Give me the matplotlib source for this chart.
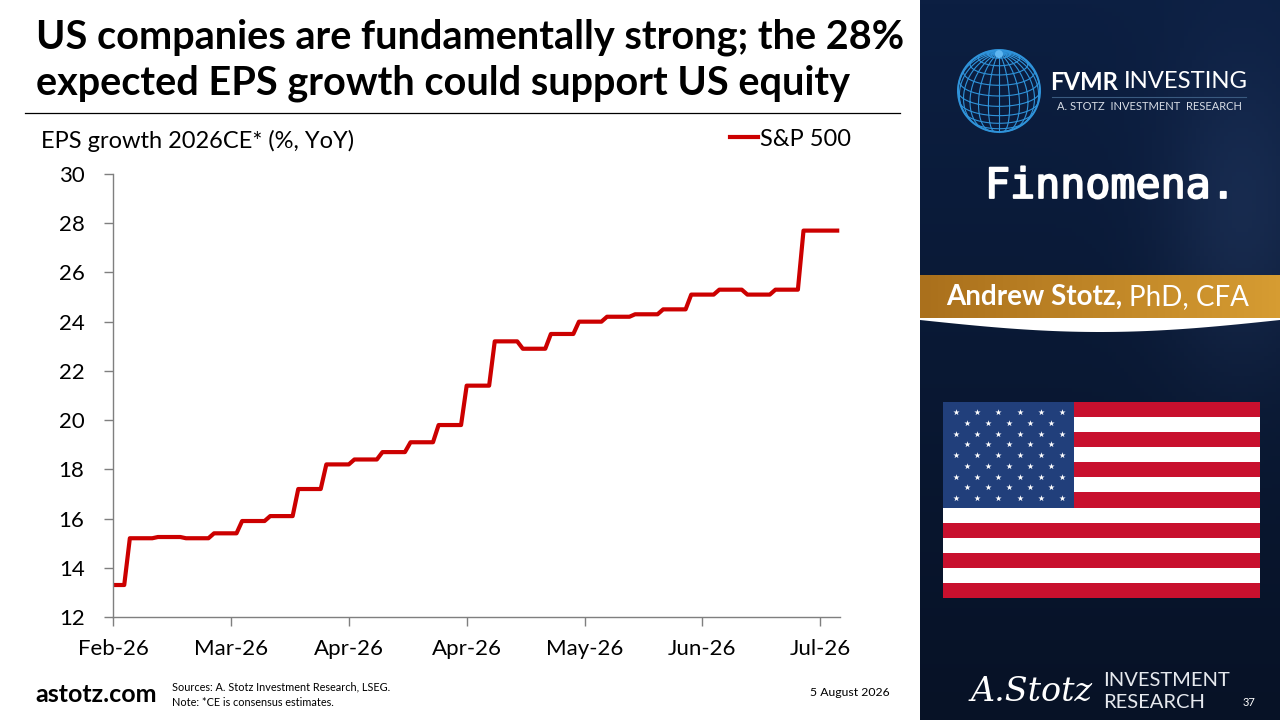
import numpy as np
import pandas as pd
import matplotlib
matplotlib.use('Agg')
import matplotlib.pyplot as plt
import matplotlib.patheffects as pe
from matplotlib.patches import Rectangle, Polygon, Circle

plt.rcParams['font.family'] = ['Lato', 'DejaVu Sans']

# weekly consensus values (update each Thursday), business-day series
weekly_values = [13.3, 15.2, 15.25, 15.2, 15.4, 15.9, 16.1, 17.2, 18.2, 18.4,
                 18.7, 19.1, 19.8, 21.4, 23.2, 22.9, 23.5, 24.0, 24.2, 24.3,
                 24.5, 25.1, 25.3, 25.1, 25.3, 27.7]
days_per_week = [3] + [5] * 24 + [7]
dates = pd.bdate_range('2026-02-02', periods=sum(days_per_week))
eps = np.repeat(weekly_values, days_per_week)

tick_pos = [0, 21, 42, 63, 84, 105, 126]
tick_labels = ['Feb-26', 'Mar-26', 'Apr-26', 'Apr-26', 'May-26', 'Jun-26', 'Jul-26']
y_ticks = [12, 14, 16, 18, 20, 22, 24, 26, 28, 30]

W, H = 1280, 720
fig = plt.figure(figsize=(12.8, 7.2), dpi=100)
fig.patch.set_facecolor('white')
renderer = fig.canvas.get_renderer()

# background layer in pixel coordinates
bg = fig.add_axes([0, 0, 1, 1], zorder=0)
bg.set_xlim(0, W)
bg.set_ylim(H, 0)
bg.axis('off')


def two_part(x0, y, left, right, size, color):
    # bold word followed by a regular word, placed right after it
    t1 = bg.text(x0, y, left, color=color, fontsize=size, fontweight='bold',
                 va='center', ha='left', zorder=4)
    ext = t1.get_window_extent(renderer=renderer)
    bg.text(ext.x1 + size * 0.32, y, right, color=color,
            fontsize=size, va='center', ha='left', zorder=4)


# dark right panel
gx = np.linspace(0, 1, 90)
gy = np.linspace(0, 1, 180)
GX, GY = np.meshgrid(gx, gy)
top = np.array([12, 31, 66]) / 255
bot = np.array([7, 18, 38]) / 255
img = top[None, None, :] * (1 - GY[..., None]) + bot[None, None, :] * GY[..., None]
glow = np.exp(-((GX - 0.9) ** 2 / 0.05 + (GY - 0.3) ** 2 / 0.05))[..., None]
img = np.clip(img + glow * np.array([0.05, 0.06, 0.08]), 0, 1)
bg.imshow(img, extent=[920, 1280, 720, 0], aspect='auto', zorder=1)

# globe logo
cx, cy, r = 999, 91, 41
gcol = '#2f93da'
tilt = np.radians(22)


def proj(x, y, z):
    y2 = y * np.cos(tilt) - z * np.sin(tilt)
    z2 = y * np.sin(tilt) + z * np.cos(tilt)
    return cx + r * x, cy - r * y2, z2


t = np.linspace(0, 2 * np.pi, 200)
for lon in np.radians(np.arange(0, 180, 15)):
    px, py, pz = proj(np.cos(t) * np.cos(lon), np.sin(t), np.cos(t) * np.sin(lon))
    m = np.where(pz > 0, 1.0, np.nan)
    bg.plot(px * m, py * m, color=gcol, lw=0.8, zorder=3)
for lat in np.radians(np.arange(-75, 90, 15)):
    px, py, pz = proj(np.cos(lat) * np.cos(t), np.full_like(t, np.sin(lat)),
                      np.cos(lat) * np.sin(t))
    m = np.where(pz > 0, 1.0, np.nan)
    bg.plot(px * m, py * m, color=gcol, lw=0.8, zorder=3)
bg.add_patch(Circle((cx, cy), r, fill=False, ec=gcol, lw=1.4, zorder=3))
bg.add_patch(Circle((cx, cy - r * 0.9), 4, fc='#5fb6f0', ec='none', zorder=3))

two_part(1050, 82, 'FVMR', 'INVESTING', 17.2, 'white')
bg.plot([1052, 1246], [97, 97], color='#3a5a80', lw=0.8, zorder=4)
bg.text(1149, 107, 'A. STOTZ  INVESTMENT  RESEARCH', color='#d8dde6', fontsize=8,
        va='center', ha='center', zorder=4)

bg.text(1110, 186, 'Finnomena.', color='white', fontsize=30,
        family='DejaVu Sans Mono', va='center', ha='center', zorder=4,
        path_effects=[pe.withStroke(linewidth=1.3, foreground='white')])

# gold banner
band = np.linspace(0, 1, 100)[None, :, None]
gold = np.array([170, 112, 28]) / 255 * (1 - band) + np.array([214, 156, 50]) / 255 * band
bg.imshow(gold, extent=[920, 1280, 318, 275], aspect='auto', zorder=2)
sx = np.linspace(920, 1280, 60)
swoosh_low = 320 + 12 * np.sin(np.pi * (sx - 920) / 360)
bg.add_patch(Polygon(np.column_stack([np.r_[sx, sx[::-1]],
                                      np.r_[np.full(60, 318), swoosh_low[::-1]]]),
                     fc='white', ec='none', zorder=2))
two_part(946, 297, 'Andrew Stotz,', 'PhD, CFA', 20, 'white')

# US flag
fx0, fx1, fy0, fy1 = 943, 1260, 402, 598
sh = (fy1 - fy0) / 13
for i in range(13):
    col = '#c8102e' if i % 2 == 0 else 'white'
    bg.add_patch(Rectangle((fx0, fy0 + i * sh), fx1 - fx0, sh, fc=col, ec='none', zorder=2))
bg.add_patch(Rectangle((fx0, fy0), 1074 - fx0, 7 * sh, fc='#213f7b', ec='none', zorder=2))
star_x, star_y = [], []
for row in range(9):
    yy = 412 + row * 10.75
    if row % 2 == 0:
        xs = 956 + np.arange(6) * 21.2
    else:
        xs = 966.5 + np.arange(5) * 21.2
    star_x += list(xs)
    star_y += [yy] * len(xs)
bg.scatter(star_x, star_y, marker='*', s=22, color='white', lw=0, zorder=3)

# bottom right logo
bg.text(1032, 692, 'A.Stotz', color='white', fontsize=24, family='DejaVu Serif',
        style='italic', fontweight='light', va='center', ha='center', zorder=4)
bg.text(1103, 681, 'INVESTMENT', color='#e6e9ee', fontsize=14.5, va='center', ha='left', zorder=4)
bg.text(1103, 702, 'RESEARCH', color='#e6e9ee', fontsize=14.5, va='center', ha='left', zorder=4)
bg.text(1249, 703, '37', color='white', fontsize=8, va='center', ha='center', zorder=4)

# title and separator
bg.text(36, 48, 'US companies are fundamentally strong; the 28%', fontsize=28.5,
        fontweight='bold', color='black', va='baseline', ha='left', zorder=4)
bg.text(36, 95, 'expected EPS growth could support US equity', fontsize=28.5,
        fontweight='bold', color='black', va='baseline', ha='left', zorder=4)
bg.plot([25, 900], [113, 113], color='black', lw=0.9, zorder=4)

# footer
bg.text(35, 694, 'astotz.com', fontsize=18, fontweight='bold', color='black',
        va='center', ha='left', zorder=4)
bg.text(172, 687, 'Sources: A. Stotz Investment Research, LSEG.', fontsize=7.8,
        color='black', va='center', ha='left', zorder=4)
bg.text(172, 703, 'Note: *CE is consensus estimates.', fontsize=7.8,
        color='black', va='center', ha='left', zorder=4)
bg.text(890, 692, '5 August 2026', fontsize=8.8, color='black',
        va='center', ha='right', zorder=4)

# main chart
ax = fig.add_axes([113 / W, 1 - 617 / H, 727 / W, 443 / H], zorder=5)
ax.patch.set_alpha(0)
x = np.arange(len(eps))
ax.plot(x, eps, color='#cc0000', lw=3, label='S&P 500')
ax.set_xlim(0, 129.5)
ax.set_ylim(12, 30)
ax.set_yticks(y_ticks)
ax.set_xticks(tick_pos)
ax.set_xticklabels(tick_labels)
for s in ['top', 'right']:
    ax.spines[s].set_visible(False)
for s in ['left', 'bottom']:
    ax.spines[s].set_color('#7f7f7f')
    ax.spines[s].set_linewidth(1.0)
ax.tick_params(axis='both', direction='out', length=6.5, width=1.0, color='#7f7f7f',
               labelsize=16, labelcolor='black')
ax.tick_params(axis='y', pad=14)
ax.tick_params(axis='x', pad=9)

fig.text(41 / W, 1 - 141 / H, 'EPS growth 2026CE* (%, YoY)', fontsize=17,
         va='center', ha='left', color='black')
ax.legend(loc='center left', bbox_to_anchor=(730 / W, 1 - 139 / H),
          bbox_transform=fig.transFigure, frameon=False, fontsize=17,
          handlelength=1.2, handletextpad=0.05, borderpad=0, borderaxespad=0)

fig.savefig('out.png', dpi=100)
